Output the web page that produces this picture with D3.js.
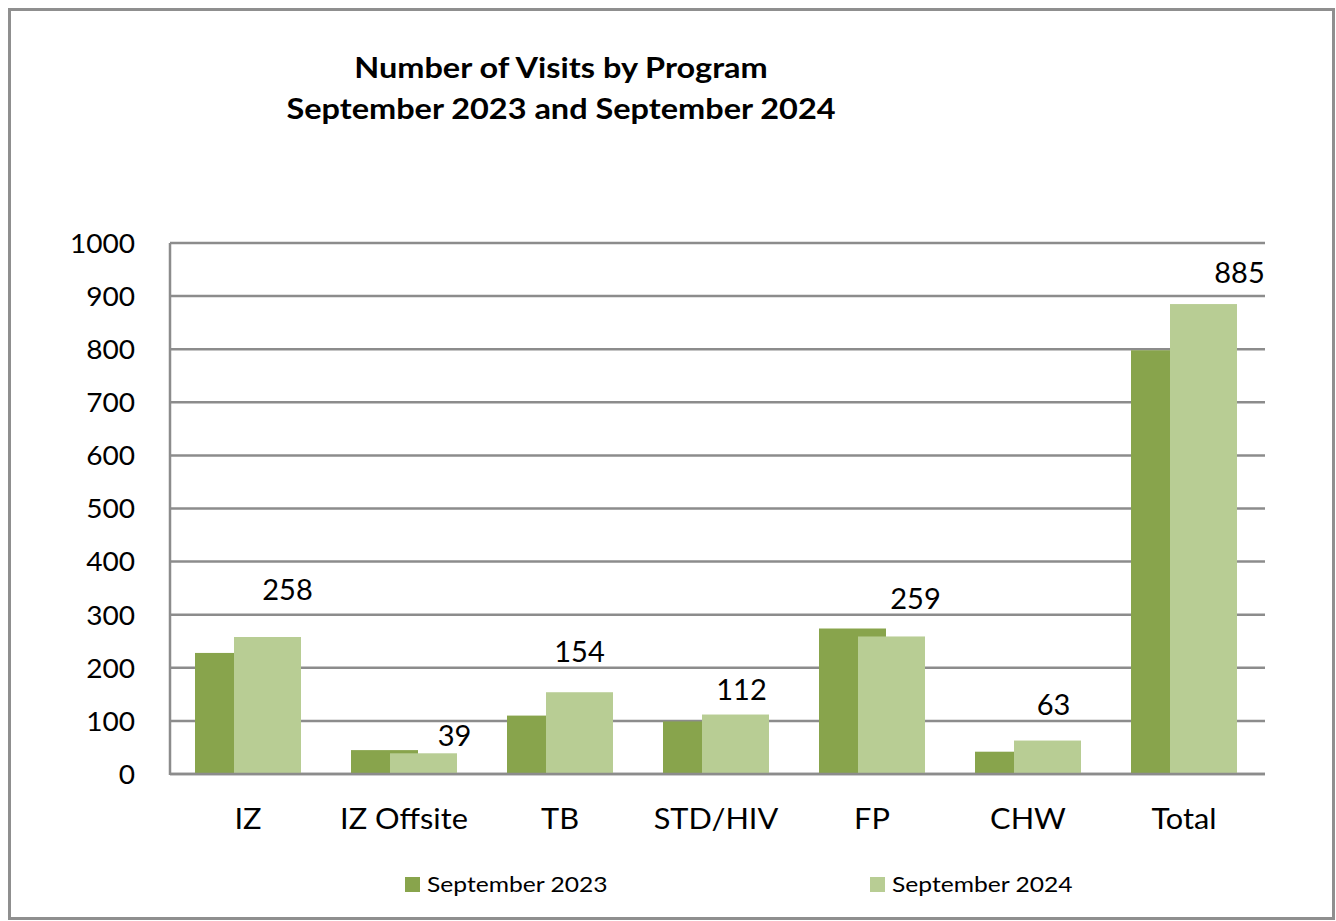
<!DOCTYPE html>
<html><head><meta charset="utf-8">
<script src="https://cdn.jsdelivr.net/npm/d3@7"></script>
<style>html,body{margin:0;padding:0;background:#fff;}svg{display:block;}
.sx{transform-box:fill-box;}
</style>
</head><body>
<svg id="chart" width="1336" height="921"></svg>
<script>
const categories = ["IZ", "IZ Offsite", "TB", "STD/HIV", "FP", "CHW", "Total"];
const sep2023 = [228, 45, 110, 99, 274, 42, 798];
const sep2024 = [258, 39, 154, 112, 259, 63, 885];
const yTicks = [0, 100, 200, 300, 400, 500, 600, 700, 800, 900, 1000];
const seriesNames = ["September 2023", "September 2024"];
// label nudges (layout only): [dx, dy] relative to top-centre of the 2024 bar
const labelNudge = [[20, -47], [31, -18], [0, -41], [6, -25], [24, -38], [6, -36], [36, -32]];

const colors = ["#88a44c", "#b8cd94"];
const font = "Lato, 'Open Sans', sans-serif";
const svg = d3.select("#chart");

function stretch(sel, s, origin) {
  sel.classed("sx", true)
    .style("transform-origin", origin)
    .style("transform", `scaleX(${s})`);
}

svg.append("rect").attr("x", 9.5).attr("y", 9.5).attr("width", 1324).attr("height", 909)
  .attr("fill", "#fff").attr("stroke", "#8f8f8f").attr("stroke-width", 3);

const pL = 170, pR = 1262, pT = 243, pB = 774;
const x = d3.scaleBand().domain(categories).range([pL, pR]).padding(0);
const y = d3.scaleLinear().domain([0, 1000]).range([pB, pT]);

const yAxis = d3.axisLeft(y).tickValues(yTicks).tickFormat(d3.format("d")).tickSize(0).tickPadding(35);
const gy = svg.append("g").attr("transform", `translate(${pL},0)`).call(yAxis);
gy.select(".domain").remove();
gy.selectAll("text").attr("font-family", font).attr("font-size", 26).attr("fill", "#000")
  .attr("dy", "0.36em");
stretch(gy.selectAll("text"), 1.08, "right center");

svg.append("g").selectAll("line").data(yTicks).join("line")
  .attr("x1", pL).attr("x2", 1265).attr("y1", d => y(d)).attr("y2", d => y(d))
  .attr("stroke", "#8c8c8c").attr("stroke-width", 2.5);
svg.append("line").attr("x1", pL).attr("x2", pL).attr("y1", pT).attr("y2", pB + 1)
  .attr("stroke", "#8c8c8c").attr("stroke-width", 2.5);

const bw = 67, off = 39;
const groupW = bw + off;
const bx0 = c => x(c) + (x.bandwidth() - groupW) / 2;

svg.append("g").selectAll("rect").data(categories).join("rect")
  .attr("x", c => bx0(c)).attr("width", bw)
  .attr("y", (c, i) => y(sep2023[i])).attr("height", (c, i) => pB - y(sep2023[i]))
  .attr("fill", colors[0]);
svg.append("g").selectAll("rect").data(categories).join("rect")
  .attr("x", c => bx0(c) + off).attr("width", bw)
  .attr("y", (c, i) => y(sep2024[i])).attr("height", (c, i) => pB - y(sep2024[i]))
  .attr("fill", colors[1]);

svg.append("line").attr("x1", pL).attr("x2", 1265).attr("y1", pB).attr("y2", pB)
  .attr("stroke", "#8c8c8c").attr("stroke-width", 2.5);

svg.append("g").selectAll("text").data(categories).join("text")
  .attr("x", (c, i) => bx0(c) + off + bw / 2 + labelNudge[i][0])
  .attr("y", (c, i) => y(sep2024[i]) + labelNudge[i][1])
  .attr("dy", "0.36em")
  .attr("text-anchor", "middle").attr("font-family", font).attr("font-size", 29).attr("fill", "#000")
  .text((c, i) => sep2024[i]);

const xAxis = d3.axisBottom(x).tickSize(0);
const gx = svg.append("g").attr("transform", `translate(0,${pB})`).call(xAxis);
gx.select(".domain").remove();
gx.selectAll("text").attr("font-family", font).attr("font-size", 29).attr("fill", "#000")
  .attr("y", 55).attr("dy", 0);
stretch(gx.selectAll("text"), 1.06, "center");

const tg = svg.append("g").attr("transform", "translate(561,0) scale(1.12,1)");
const title = tg.append("text").attr("text-anchor", "middle").attr("font-family", font)
  .attr("font-weight", "bold").attr("font-size", 29).attr("fill", "#000");
title.append("tspan").attr("x", 0).attr("y", 78).text("Number of Visits by Program");
title.append("tspan").attr("x", 0).attr("y", 119).text("September 2023 and September 2024");

const legX = [405, 870];
const lg = svg.append("g").selectAll("g").data(seriesNames).join("g")
  .attr("transform", (d, i) => `translate(${legX[i]},877)`);
lg.append("rect").attr("width", 15).attr("height", 15).attr("fill", (d, i) => colors[i]);
lg.append("text").attr("x", 0).attr("y", 0).attr("font-family", font).attr("font-size", 22)
  .attr("fill", "#000").text(d => d)
  .attr("transform", "translate(22,15) scale(1.12,1)");
</script>
</body></html>
